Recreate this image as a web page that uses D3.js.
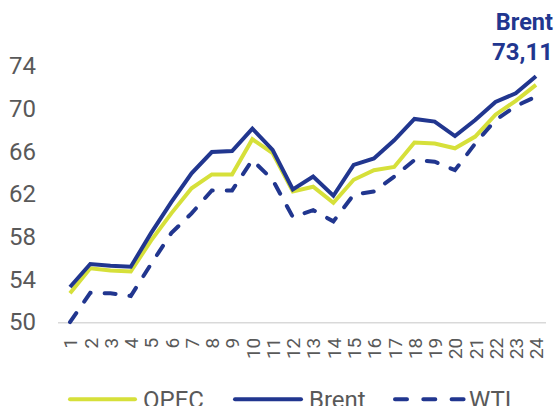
<!DOCTYPE html>
<html><head><meta charset="utf-8">
<script src="https://cdn.jsdelivr.net/npm/d3@7/dist/d3.min.js"></script>
<style>
html,body{margin:0;padding:0;background:#fff;}
svg{display:block;font-family:Roboto,"Noto Sans",sans-serif;}
</style></head>
<body><svg id="c" width="556" height="406"></svg>
<script>
const categories = ["1","2","3","4","5","6","7","8","9","10","11","12","13","14","15","16","17","18","19","20","21","22","23","24"];
const opec  = [52.75,55.1,54.9,54.8,57.7,60.25,62.6,63.9,63.9,67.2,65.9,62.3,62.75,61.25,63.4,64.3,64.6,66.9,66.8,66.35,67.45,69.5,70.8,72.3];
const brent = [53.35,55.5,55.35,55.25,58.4,61.3,64.0,66.0,66.1,68.2,66.2,62.5,63.7,61.9,64.8,65.4,67.1,69.1,68.85,67.5,69.0,70.7,71.5,73.11];
const wti   = [50.05,52.8,52.75,52.5,55.5,58.4,60.25,62.4,62.4,65.25,63.4,59.9,60.55,59.5,62.0,62.3,63.7,65.25,65.1,64.3,66.8,69.0,70.3,71.2];
const yTicks = [50,54,58,62,66,70,74];
const seriesNames = ["OPEC","Brent","WTI"];
const lastLabel = ["Brent","73,11"];

const C_BLUE = "#21368f", C_LIME = "#d6e03a", C_TEXT = "#595959";
const svg = d3.select("#c");
const x = d3.scalePoint().domain(categories).range([70,536]);
const y = d3.scaleLinear().domain([50,74]).range([322.7,66.7]);

// baseline
svg.append("line").attr("x1",58).attr("x2",546).attr("y1",y(50)).attr("y2",y(50))
  .attr("stroke","#d9d9d9").attr("stroke-width",1.5);

// y labels
const yAxis = d3.axisLeft(y).tickValues(yTicks).tickSize(0).tickPadding(0);
const gy = svg.append("g").attr("transform","translate(36,0)").call(yAxis);
gy.select(".domain").remove();
gy.selectAll("text").attr("fill",C_TEXT).style("font-size","24px").style("font-family","Roboto").attr("dy","0.3em");

// x labels
const xAxis = d3.axisBottom(x).tickSize(0).tickPadding(0);
const gx = svg.append("g").attr("transform",`translate(0,${y(50)})`).call(xAxis);
gx.select(".domain").remove();
gx.selectAll("text").attr("fill",C_TEXT).style("font-size","19px").style("font-family","Roboto")
  .attr("text-anchor","end").attr("transform","translate(0,15) rotate(-90)")
  .attr("x",0).attr("y",0).attr("dy","0.36em");

const line = d3.line().x((d,i)=>x(categories[i])).y(d=>y(d));
const specs = [
  {v:opec, c:C_LIME, dash:null},
  {v:wti, c:C_BLUE, dash:"11,14"},
  {v:brent, c:C_BLUE, dash:null}
];
specs.forEach(s=>{
  svg.append("path").datum(s.v).attr("d",line).attr("fill","none")
    .attr("stroke",s.c).attr("stroke-width",4)
    .attr("stroke-linejoin","miter").attr("stroke-linecap", s.dash ? "round":"butt")
    .attr("stroke-dasharray", s.dash);
});

// annotation
svg.append("text").attr("x",553).attr("y",29.5).attr("text-anchor","end")
  .attr("fill",C_BLUE).style("font-weight","bold").style("font-size","23.5px").text(lastLabel[0]);
svg.append("text").attr("x",553).attr("y",59.5).attr("text-anchor","end")
  .attr("fill",C_BLUE).style("font-weight","bold").style("font-size","24px").text(lastLabel[1]);

// legend
const legend = [
  {name:seriesNames[0], c:C_LIME, dash:null, x1:70, x2:135, tx:143},
  {name:seriesNames[1], c:C_BLUE, dash:null, x1:235, x2:301, tx:309},
  {name:seriesNames[2], c:C_BLUE, dash:"12,16.3", x1:395, x2:464, tx:469}
];
legend.forEach(l=>{
  svg.append("line").attr("x1",l.x1).attr("x2",l.x2).attr("y1",399.3).attr("y2",399.3)
    .attr("stroke",l.c).attr("stroke-width",4).attr("stroke-linecap","round")
    .attr("stroke-dasharray",l.dash);
  svg.append("text").attr("x",l.tx).attr("y",407.5).attr("fill",C_TEXT)
    .style("font-size","24px").text(l.name);
});
</script></body></html>
